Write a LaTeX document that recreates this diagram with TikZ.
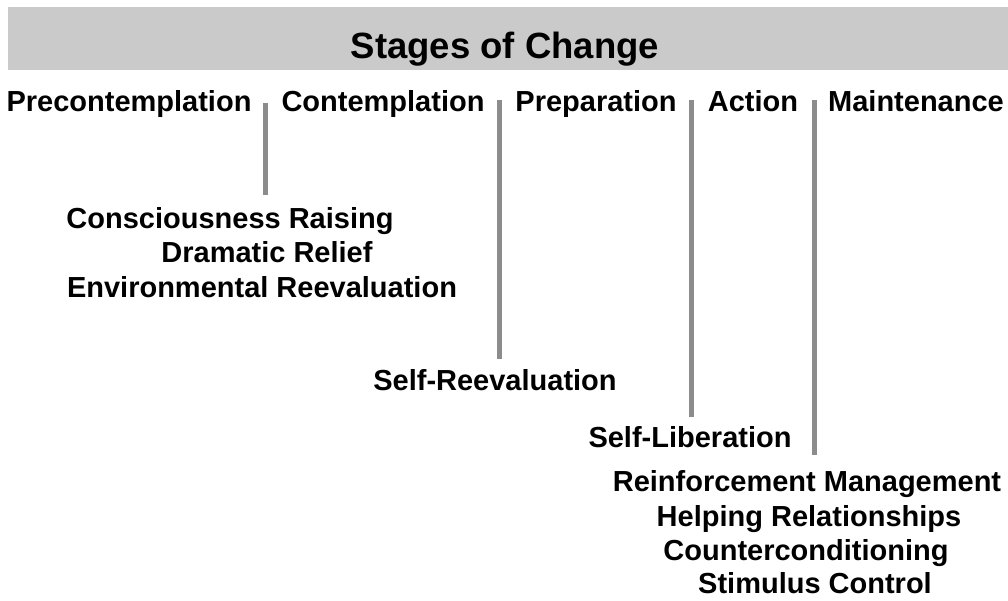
\documentclass[tikz,border=0pt]{standalone}
\usepackage{fontspec}
\setmainfont{Liberation Sans}
\definecolor{bargray}{RGB}{140,140,140}
\definecolor{bannergray}{RGB}{202,202,202}
\begin{document}
\begin{tikzpicture}[x=1pt,y=-1pt,
  lbl/.style={font=\fontsize{29}{31}\selectfont\bfseries, inner sep=0pt, text height=20.5pt, text depth=0pt},
  ttl/.style={font=\fontsize{36.5}{40}\selectfont\bfseries, inner sep=0pt, text height=26pt, text depth=0pt},
  bar/.style={line width=5pt, draw=bargray},
  banner/.style={fill=bannergray, draw=none}]
\useasboundingbox (0,0) rectangle (1008,600);
\fill[white] (0,0) rectangle (1008,600);
% banner
\path[banner] (8,7) rectangle (1008,70);
\node[ttl] (title) at (505,45) {Stages of Change};
% stages
\node[lbl] (pre)  at (129,101) {Precontemplation};
\node[lbl] (con)  at (383,101) {Contemplation};
\node[lbl] (prep) at (596,101) {Preparation};
\node[lbl] (act)  at (753,101) {Action};
\node[lbl] (mai)  at (916,101) {Maintenance};
% processes
\node[lbl] (cr)  at (230,218) {Consciousness Raising};
\node[lbl] (dr)  at (267,252) {Dramatic Relief};
\node[lbl] (er)  at (262,287) {Environmental Reevaluation};
\node[lbl] (sr)  at (495,380) {Self-Reevaluation};
\node[lbl] (sl)  at (690,437) {Self-Liberation};
\node[lbl] (rm)  at (807,481) {Reinforcement Management};
\node[lbl] (hr)  at (809,516) {Helping Relationships};
\node[lbl] (cc)  at (806,550) {Counterconditioning};
\node[lbl] (sc)  at (815,583) {Stimulus Control};
% bars
\coordinate (b1t) at (265,103); \coordinate (b1b) at (265,195);
\coordinate (b2t) at (499,100); \coordinate (b2b) at (499,359);
\coordinate (b3t) at (691,100); \coordinate (b3b) at (691,417);
\coordinate (b4t) at (814,100); \coordinate (b4b) at (814,455);
\draw[bar] (b1t) -- (b1b);
\draw[bar] (b2t) -- (b2b);
\draw[bar] (b3t) -- (b3b);
\draw[bar] (b4t) -- (b4b);
\end{tikzpicture}
\end{document}
